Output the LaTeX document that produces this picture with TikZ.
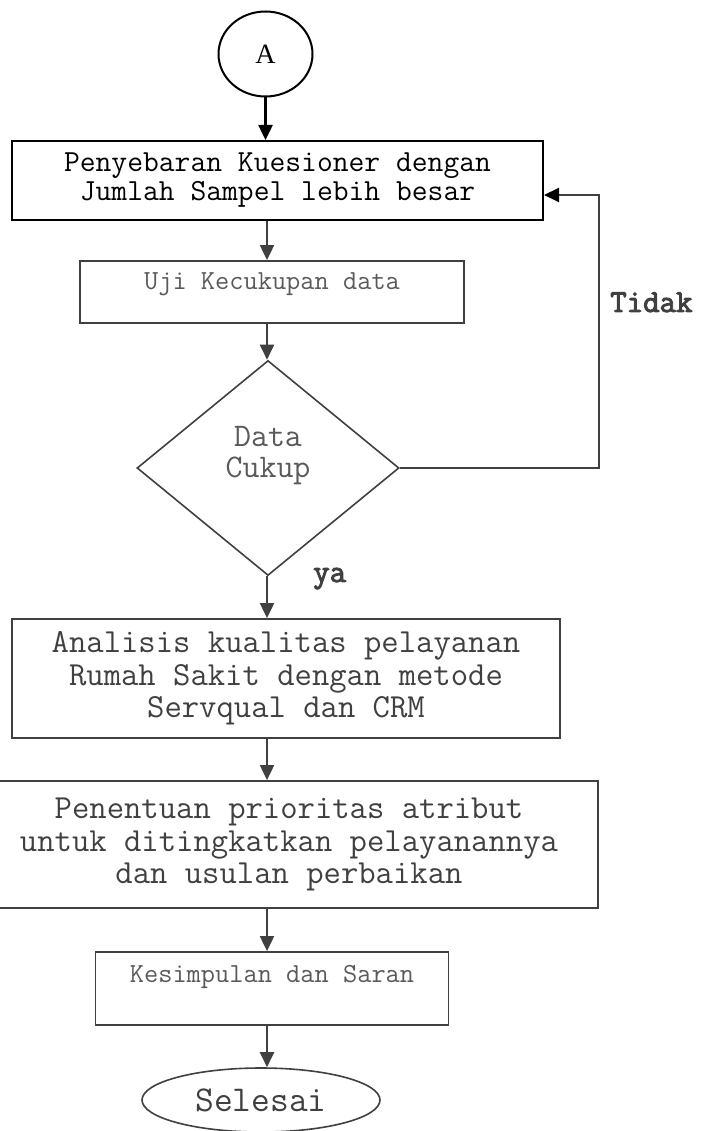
\documentclass[tikz,border=0pt]{standalone}
\usepackage{fontspec}
\newfontfamily\timesA{Liberation Serif}
\newfontfamily\monobold{Latin Modern Mono}[FakeBold=3]
\usetikzlibrary{arrows.meta,shapes.geometric}
\definecolor{ink}{HTML}{404040}
\definecolor{inkl}{HTML}{5A5A5A}

\tikzset{
  flow/.style={draw=ink,line width=2pt,-{Triangle[length=15pt,width=14pt]}},
  proc/.style={draw=ink,line width=1.8pt,rectangle,inner sep=0pt,align=center},
}

\begin{document}
\begin{tikzpicture}[x=1pt,y=-1pt]
  \useasboundingbox (0,0) rectangle (705,1131);
  \coordinate (spine) at (267,0);
  \coordinate (loopx) at (599,0);
  \node[ellipse,draw,line width=2pt,minimum width=94pt,minimum height=85pt,inner sep=0pt,
    font=\timesA\fontsize{28}{28}\selectfont] (A) at (265.5,54) {A};
  \node[proc,draw=black,line width=2pt,minimum width=531pt,minimum height=79pt,
    font=\ttfamily\fontsize{30.7}{29}\selectfont] (kuesioner) at (277.5,180.5)
    {Penyebaran Kuesioner dengan\\Jumlah Sampel lebih besar};
  \node[proc,minimum width=384pt,minimum height=62pt,text=inkl,text height=17pt,text depth=21pt,
    font=\ttfamily\fontsize{27.6}{26}\selectfont] (uji) at (272,292) {Uji Kecukupan data};
  \node[diamond,draw=ink,line width=1.6pt,minimum width=262pt,minimum height=215pt,inner sep=0pt,
    align=center,text=inkl,text height=60pt,text depth=42pt,
    font=\ttfamily\fontsize{33}{31}\selectfont] (cukup) at (268,468) {Data\\Cukup};
  \node[proc,minimum width=548pt,minimum height=119pt,text=ink,
    font=\ttfamily\fontsize{33.7}{32.5}\selectfont] (analisis) at (286,678.5)
    {Analisis kualitas pelayanan\\Rumah Sakit dengan metode\\Servqual dan CRM};
  \node[proc,minimum width=618pt,minimum height=127pt,text=ink,
    font=\ttfamily\fontsize{33.7}{32.5}\selectfont] (prioritas) at (289,844.5)
    {Penentuan prioritas atribut\\untuk ditingkatkan pelayanannya\\dan usulan perbaikan};
  \node[proc,minimum width=353pt,minimum height=73pt,text=inkl,text height=17pt,text depth=30pt,
    font=\ttfamily\fontsize{27.6}{26}\selectfont] (kesimpulan) at (272,988.5) {Kesimpulan dan Saran};
  \node[ellipse,draw=ink,line width=1.6pt,minimum width=238pt,minimum height=64pt,inner sep=0pt,
    text=ink,font=\ttfamily\fontsize{36.4}{36}\selectfont] (selesai) at (261,1100) {Selesai};
  \node[anchor=base west,inner sep=0pt,text=ink,font=\monobold\fontsize{32}{32}\selectfont]
    (tidak) at (610,312) {Tidak};
  \node[anchor=base west,inner sep=0pt,text=ink,font=\monobold\fontsize{32}{32}\selectfont]
    (ya) at (313,582) {ya};
  \coordinate (masuk) at ([yshift=-14.5pt]kuesioner.east);

  \draw[flow,draw=black,line width=2.5pt] (A.south) -- (A.south |- kuesioner.north);
  \draw[flow] (kuesioner.south -| spine) -- (uji.north -| spine);
  \draw[flow] (uji.south -| spine) -- (cukup.north -| spine);
  \draw[flow] (cukup.south -| spine) -- (analisis.north -| spine);
  \draw[flow] (analisis.south -| spine) -- (prioritas.north -| spine);
  \draw[flow] (prioritas.south -| spine) -- (kesimpulan.north -| spine);
  \draw[flow] (kesimpulan.south -| spine) -- (spine |- selesai.north);
  \draw[draw=ink,line width=2pt,-{Triangle[length=15pt,width=14pt,color=black]}]
    (cukup.east) -| (loopx |- masuk) -- (masuk);
\end{tikzpicture}
\end{document}
